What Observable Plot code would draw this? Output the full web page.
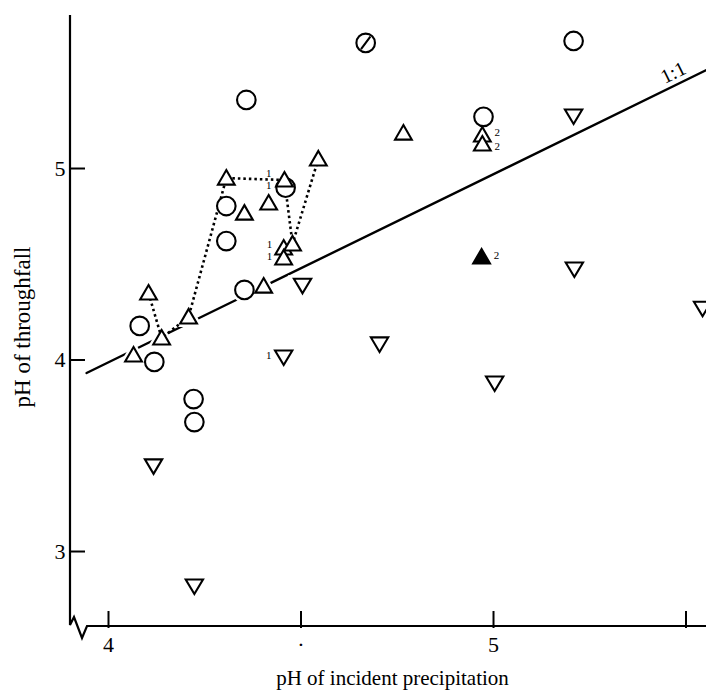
<!DOCTYPE html>
<html><head><meta charset="utf-8">
<script src="https://cdn.jsdelivr.net/npm/d3@7"></script>
<script src="https://cdn.jsdelivr.net/npm/@observablehq/plot@0.6"></script>
<style>html,body{margin:0;padding:0;background:#fff}svg{display:block}</style>
</head><body><div id="chart"></div>
<script>
// ---- data (pH values) ----
const xTicks = [4, 4.5, 5, 5.5];
const xTickLabels = ["4", "·", "5", ""];
const yTicks = [3, 4, 5];
const yTickLabels = ["3", "4", "5"];

const circleX = [4.081, 4.119, 4.221, 4.223, 4.306, 4.306, 4.358, 4.353, 4.460, 4.974, 5.208];
const circleY = [4.178, 3.990, 3.796, 3.676, 4.804, 4.621, 5.358, 4.366, 4.900, 5.270, 5.666];

const slashedX = [4.668];
const slashedY = [5.656];

const upX = [4.065, 4.104, 4.138, 4.208, 4.306, 4.353, 4.416, 4.403, 4.457, 4.455, 4.455, 4.478, 4.545, 4.766, 4.971, 4.971];
const upY = [4.026, 4.350, 4.115, 4.225, 4.950, 4.767, 4.820, 4.386, 4.940, 4.585, 4.533, 4.606, 5.050, 5.185, 5.175, 5.128];

const filledX = [4.969];
const filledY = [4.538];

const downX = [4.117, 4.223, 4.455, 4.504, 4.704, 5.003, 5.208, 5.210, 5.543];
const downY = [3.447, 2.820, 4.016, 4.390, 4.084, 3.880, 5.274, 4.475, 4.270];

const dottedX = [4.104, 4.138, 4.208, 4.306, 4.457, 4.478, 4.545];
const dottedY = [4.350, 4.115, 4.225, 4.950, 4.940, 4.606, 5.050];

const oneToOneX = [3.943, 5.553];
const oneToOneY = [3.932, 5.514];
const oneToOneLabel = ["1:1"];
const oneToOneLabelX = [5.467];
const oneToOneLabelY = [5.500];

const noteText = ["1", "1", "1", "1", "1", "2", "2", "2"];
const noteX = [4.416, 4.416, 4.418, 4.418, 4.416, 5.010, 5.010, 5.008];
const noteY = [4.976, 4.910, 4.605, 4.539, 4.026, 5.190, 5.115, 4.548];

const xTitle = "pH of incident precipitation";
const yTitle = "pH of throughfall";

// ---- tables ----
const zip = (xs, ys) => xs.map((x, i) => ({x, y: ys[i]}));
const circles = zip(circleX, circleY);
const slashed = zip(slashedX, slashedY);
const ups = zip(upX, upY);
const filled = zip(filledX, filledY);
const downs = zip(downX, downY);
const dotted = zip(dottedX, dottedY);
const oneToOne = zip(oneToOneX, oneToOneY);
const notes = noteText.map((t, i) => ({text: t, x: noteX[i], y: noteY[i]}));
const oneLbl = oneToOneLabel.map((t, i) => ({text: t, x: oneToOneLabelX[i], y: oneToOneLabelY[i]}));

// ---- symbols ----
const symUp = {draw(c, size) { const r = Math.sqrt(size / Math.PI);
  c.moveTo(0, -0.86 * r); c.lineTo(0.9 * r, 0.7 * r); c.lineTo(-0.9 * r, 0.7 * r); c.closePath(); }};
const symDown = {draw(c, size) { const r = Math.sqrt(size / Math.PI);
  c.moveTo(0, 0.86 * r); c.lineTo(0.93 * r, -0.7 * r); c.lineTo(-0.93 * r, -0.7 * r); c.closePath(); }};
const symCircle = {draw(c, size) { const r = Math.sqrt(size / Math.PI);
  c.moveTo(r, 0); c.arc(0, 0, r, 0, 2 * Math.PI); }};
const symSlash = {draw(c, size) { const r = Math.sqrt(size / Math.PI);
  c.moveTo(r, 0); c.arc(0, 0, r, 0, 2 * Math.PI);
  c.moveTo(-0.5 * r, 0.68 * r); c.lineTo(0.5 * r, -0.68 * r); }};

const R = 9.3;
const groups = [
  [circles, symCircle, "white"],
  [slashed, symSlash, "white"],
  [ups, symUp, "white"],
  [filled, symUp, "black"],
  [downs, symDown, "white"]
];

const FONT = "Liberation Serif, Times New Roman, serif";

function axisFrame(index, scales, values, dims) {
  const x0 = dims.marginLeft, y0 = dims.height - dims.marginBottom;
  const top = dims.marginTop, right = dims.width - dims.marginRight;
  const g = d3.create("svg:g");
  g.append("path")
    .attr("fill", "none").attr("stroke", "black").attr("stroke-width", 2.2)
    .attr("stroke-linejoin", "miter")
    .attr("d", `M${x0},${top}V${y0 - 3}l4,-8l8,21l5,-12H${right}`);
  return g.node();
}

const chart = Plot.plot({
  width: 706,
  height: 691,
  marginLeft: 70,
  marginRight: 0,
  marginTop: 15,
  marginBottom: 63,
  style: {fontFamily: FONT, color: "black", background: "white", overflow: "visible"},
  x: {domain: [3.9013, 5.5532], axis: null},
  y: {domain: [2.598, 5.799], axis: null},
  marks: [
    Plot.line(oneToOne, {x: "x", y: "y", stroke: "black", strokeWidth: 2.4}),
    // white halos that break the 1:1 line around markers
    ...groups.map(([d, s]) => Plot.dot(d, {x: "x", y: "y", r: R, symbol: s, fill: "white", stroke: "white", strokeWidth: 7})),
    Plot.line(dotted, {x: "x", y: "y", stroke: "black", strokeWidth: 2.6, strokeDasharray: "2.5,3", strokeLinecap: "butt"}),
    ...groups.map(([d, s, f]) => Plot.dot(d, {x: "x", y: "y", r: R, symbol: s, fill: f, stroke: "black", strokeWidth: 2.1})),
    Plot.text(notes, {x: "x", y: "y", text: "text", fontSize: 11, fill: "black", stroke: "white", strokeWidth: 1.5, paintOrder: "stroke"}),
    Plot.text(oneLbl, {x: "x", y: "y", text: "text", fontSize: 20, rotate: -26, fill: "black"}),
    Plot.axisX(xTicks, {label: null, tickSize: -17, tickPadding: 25, strokeWidth: 2, fontSize: 22,
      tickFormat: d => xTickLabels[xTicks.indexOf(d)]}),
    Plot.axisY(yTicks, {label: null, tickSize: -15, tickPadding: 20, strokeWidth: 2, fontSize: 22,
      tickFormat: d => yTickLabels[yTicks.indexOf(d)]}),
    axisFrame,
    Plot.text([xTitle], {frameAnchor: "bottom", dx: 4, dy: 56, lineAnchor: "bottom", fontSize: 21, fill: "black"}),
    Plot.text([yTitle], {frameAnchor: "left", dx: -48, dy: 5, rotate: -90, textAnchor: "middle", lineAnchor: "middle", fontSize: 23, fill: "black"})
  ]
});
document.getElementById("chart").appendChild(chart);
</script>
</body></html>
